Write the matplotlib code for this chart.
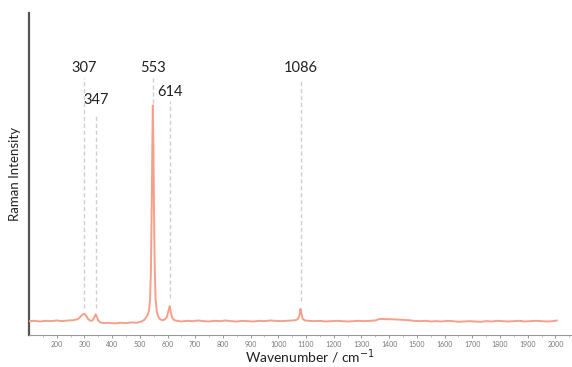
import numpy as np
import matplotlib.pyplot as plt

plt.rcParams['font.family'] = ['Lato', 'DejaVu Sans']

# spectrum (wavenumber / cm-1, intensity in %)
wavenumber = [100, 120, 140, 160, 180, 200, 220, 240, 260, 275, 285, 292, 300, 306, 313, 320,
              328, 334, 338, 341, 345, 350, 358, 370, 390, 410, 430, 450, 470, 490, 505, 515,
              522, 528, 533, 537, 540, 543, 545, 547, 549, 551, 554, 557, 561, 566, 572, 580,
              590, 598, 603, 608, 612, 617, 624, 635, 650, 670, 690, 710, 730, 750, 770, 790,
              810, 830, 850, 870, 890, 910, 930, 950, 970, 990, 1010, 1030, 1050, 1062, 1070,
              1075, 1078, 1080, 1083, 1088, 1096, 1110, 1130, 1150, 1170, 1190, 1210, 1230,
              1250, 1270, 1290, 1310, 1330, 1350, 1362, 1375, 1390, 1410, 1430, 1450, 1470,
              1490, 1510, 1530, 1550, 1570, 1590, 1610, 1630, 1650, 1670, 1690, 1710, 1730,
              1750, 1770, 1790, 1810, 1830, 1850, 1870, 1890, 1910, 1930, 1950, 1970, 1990, 2005]
intensity = [4.3, 4.4, 4.2, 4.4, 4.3, 4.5, 4.3, 4.5, 4.6, 4.9, 5.6, 6.3, 6.6, 6.0, 5.0, 4.5,
             4.4, 5.2, 6.0, 6.4, 5.6, 4.5, 3.9, 3.7, 3.8, 3.6, 3.8, 3.7, 3.9, 3.8, 4.2, 4.6,
             5.4, 6.2, 7.5, 11.0, 20.0, 40.0, 58.0, 71.3, 60.0, 40.0, 20.0, 11.0, 7.5, 5.8, 5.0, 4.6,
             4.8, 5.6, 7.4, 9.0, 7.0, 5.3, 4.6, 4.4, 4.2, 4.4, 4.3, 4.5, 4.3, 4.2, 4.4, 4.3,
             4.5, 4.3, 4.2, 4.4, 4.3, 4.2, 4.4, 4.3, 4.5, 4.4, 4.3, 4.4, 4.5, 4.6, 4.9,
             5.8, 7.2, 8.1, 6.8, 5.0, 4.5, 4.4, 4.3, 4.4, 4.2, 4.3, 4.4, 4.3,
             4.2, 4.3, 4.4, 4.3, 4.4, 4.5, 4.9, 5.0, 4.9, 4.9, 4.8, 4.7, 4.6,
             4.4, 4.3, 4.4, 4.2, 4.3, 4.2, 4.4, 4.3, 4.1, 4.2, 4.3, 4.2, 4.1,
             4.3, 4.2, 4.4, 4.3, 4.2, 4.3, 4.4, 4.2, 4.3, 4.4, 4.3, 4.2, 4.3, 4.5]

# peak markers: position, label, dashed line top / bottom, label height
peak_pos = [300, 341, 547, 608, 1080]
peak_labels = ['307', '347', '553', '614', '1086']
line_top = [79.8, 68.2, 79.8, 72.6, 79.0]
line_bottom = [8.4, 8.4, 72.0, 11.5, 10.6]
label_y = [83.0, 73.0, 83.0, 75.5, 83.0]

fig = plt.figure(figsize=(5.72, 3.67), dpi=100)
ax = fig.add_axes([29/572, 1 - 335/367, 543/572, (335 - 13)/367])

ax.plot(wavenumber, intensity, color='#f4a08a', lw=1.4, zorder=3)

for x, lab, top, bot, ly in zip(peak_pos, peak_labels, line_top, line_bottom, label_y):
    ax.plot([x, x], [bot, top], ls=(0, (3, 2)), color='#cfcfcf', lw=1.0, zorder=2)
    ax.text(x, ly, lab, ha='center', va='center', fontsize=10.5, color='#222222')

ax.set_xlim(100, 2060)
ax.set_ylim(0, 100)
ax.set_yticks([])
ax.set_xticks(range(200, 2001, 100))
ax.set_xticks(range(150, 2051, 50), minor=True)
ax.tick_params(axis='x', which='major', length=2.5, width=0.6, color='#888888',
               labelsize=5, labelcolor='#777777', pad=2)
ax.tick_params(axis='x', which='minor', length=1.5, width=0.5, color='#aaaaaa')

for s in ['top', 'right']:
    ax.spines[s].set_visible(False)
ax.spines['left'].set_color('#555555')
ax.spines['left'].set_linewidth(1.6)
ax.spines['bottom'].set_color('#999999')
ax.spines['bottom'].set_linewidth(0.8)

ax.set_ylabel('Raman Intensity', fontsize=9.5, color='#222222', labelpad=6)
fig.text(310/572, 1 - 357/367, 'Wavenumber / cm$^{-1}$', ha='center', va='center',
         fontsize=10, color='#222222')

fig.savefig('out.png', dpi=100)
